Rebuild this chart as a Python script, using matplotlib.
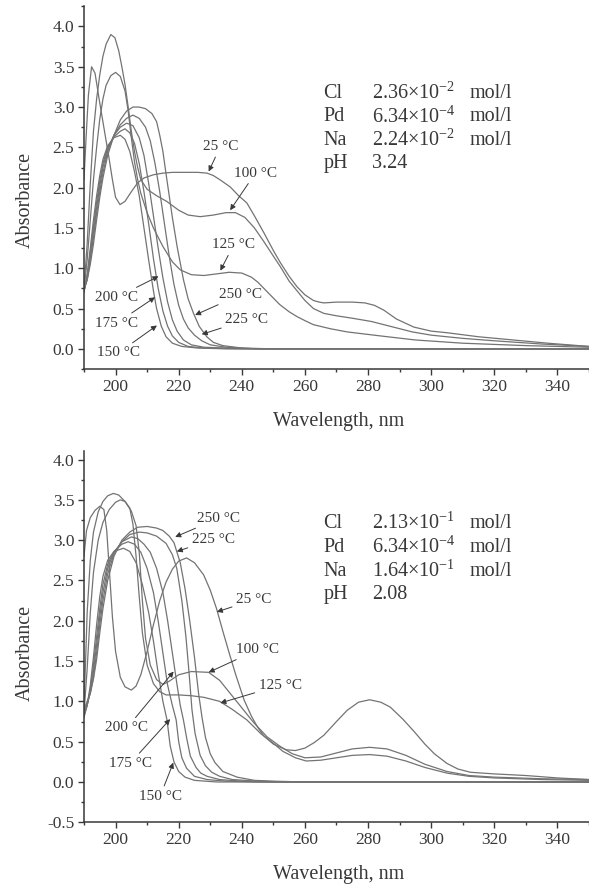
import numpy as np
import matplotlib
matplotlib.use("Agg")
import matplotlib.pyplot as plt
from matplotlib.ticker import FormatStrFormatter

plt.rcParams["font.family"] = ["Liberation Serif", "DejaVu Serif"]
plt.rcParams["mathtext.fontset"] = "custom"
plt.rcParams["mathtext.rm"] = "Liberation Serif"
plt.rcParams["mathtext.it"] = "Liberation Serif:italic"
plt.rcParams["mathtext.bf"] = "Liberation Serif:bold"

INK = "#383838"
LINE = "#737373"

# %% upper panel: Cl 2.36e-2 mol/l, pH 3.24  -- (wavelength nm, absorbance)
TOP_25 = [(190, 2.1), (190.7, 2.65), (191.4, 3.15), (192.4, 3.5), (193.5, 3.42), (195, 3.05),
          (196.5, 2.7), (198, 2.35), (199, 2.1), (200, 1.88), (201.4, 1.79), (203, 1.83),
          (205, 1.95), (207, 2.06), (209, 2.12), (212, 2.16), (215, 2.18), (218, 2.19), (222, 2.19),
          (226, 2.19), (229, 2.18), (231, 2.15), (233, 2.1), (236.3, 2.01), (239, 1.9), (241.6, 1.81),
          (244, 1.65), (247, 1.44), (250, 1.22), (252.2, 1.07), (255, 0.9), (257.5, 0.77),
          (260, 0.67), (262.7, 0.6), (264.5, 0.58), (266, 0.57), (270, 0.58), (275, 0.58), (279, 0.57),
          (282, 0.54), (285, 0.48), (289, 0.37), (294.5, 0.27), (300, 0.22), (305, 0.2),
          (315, 0.15), (326, 0.11), (337, 0.07), (350, 0.03)]
TOP_100 = [(190, 0.75), (191, 1.3), (192, 2.05), (193, 2.7), (194, 3.1), (195, 3.4), (196, 3.63),
           (197, 3.78), (198.5, 3.9), (199.8, 3.86), (201, 3.7), (202, 3.5), (203, 3.28),
           (204, 3.0), (205, 2.7), (206, 2.45), (207, 2.25), (208, 2.1), (210, 1.98), (213, 1.9),
           (216.2, 1.83), (220, 1.72), (223, 1.66), (226.8, 1.64), (231, 1.66), (235, 1.69),
           (238, 1.69), (241, 1.63), (244, 1.5), (247, 1.33), (250, 1.15), (252.2, 1.02),
           (255, 0.84), (257.5, 0.72), (260, 0.6), (262.7, 0.5), (266, 0.44), (270, 0.41),
           (275, 0.38), (281, 0.34), (287, 0.28), (294, 0.21), (300, 0.17), (310, 0.13),
           (320, 0.1), (335, 0.06), (350, 0.03)]
TOP_125 = [(190, 0.74), (191, 1.1), (192, 1.6), (193, 2.1), (194, 2.5), (195, 2.85), (196, 3.1),
           (197, 3.27), (198.5, 3.39), (200, 3.43), (201.5, 3.38), (203, 3.2), (204, 2.95),
           (205, 2.62), (206, 2.32), (207, 2.1), (208, 1.93), (210, 1.69), (212, 1.5), (215, 1.27),
           (218, 1.08), (220.5, 0.98), (224, 0.92), (228, 0.91), (232, 0.93), (236, 0.95),
           (240, 0.94), (243, 0.89), (245, 0.83), (247, 0.75), (249.5, 0.65), (252, 0.55),
           (255, 0.46), (257.5, 0.4), (260, 0.35), (262.7, 0.3), (268, 0.25), (273.4, 0.21),
           (284, 0.16), (295, 0.11), (310, 0.07), (330, 0.04), (350, 0.02)]
TOP_150 = [(190, 0.7), (191, 0.92), (192, 1.25), (193, 1.6), (194, 1.9), (195, 2.15), (196, 2.35),
           (197.5, 2.52), (199.5, 2.62), (201.5, 2.65), (203, 2.6), (204.5, 2.45), (206, 2.2),
           (207.5, 1.9), (209, 1.5), (210.5, 1.1), (212, 0.72), (213, 0.5), (214.5, 0.28),
           (216, 0.15), (218, 0.07), (221, 0.03), (226, 0.01), (235, 0.0), (350, 0.0)]
TOP_175 = [(190, 0.71), (191, 0.9), (192, 1.2), (193, 1.52), (194, 1.82), (195, 2.08), (196, 2.3),
           (197.5, 2.5), (199.5, 2.63), (201.5, 2.7), (203, 2.73), (204.5, 2.68), (206, 2.55),
           (207.5, 2.3), (209, 1.95), (210.5, 1.55), (212, 1.12), (213.5, 0.75), (215, 0.47),
           (216.5, 0.28), (218, 0.16), (220, 0.08), (223, 0.03), (228, 0.01), (240, 0.0), (350, 0.0)]
TOP_200 = [(190, 0.72), (191, 0.88), (192, 1.15), (193, 1.45), (194, 1.75), (195, 2.02), (196, 2.25),
           (197.5, 2.48), (199.5, 2.65), (201.5, 2.75), (203.5, 2.8), (205.5, 2.77), (207.5, 2.62),
           (209, 2.4), (210.5, 2.05), (212, 1.65), (213.5, 1.25), (215, 0.88), (216.5, 0.58),
           (218, 0.36), (219.5, 0.22), (221.5, 0.11), (224, 0.05), (228, 0.02), (235, 0.01),
           (245, 0.0), (350, 0.0)]
TOP_225 = [(190, 0.73), (191, 0.86), (192, 1.1), (193, 1.38), (194, 1.68), (195, 1.95), (196, 2.18),
           (197.5, 2.45), (199.5, 2.65), (201.5, 2.78), (203.5, 2.86), (205.5, 2.9), (207.5, 2.86),
           (209.5, 2.75), (211, 2.58), (212.5, 2.3), (214, 1.95), (215.5, 1.55), (217, 1.15),
           (218.5, 0.8), (220, 0.54), (221.5, 0.37), (223, 0.26), (225, 0.17), (227.3, 0.1),
           (230, 0.05), (235, 0.02), (245, 0.0), (350, 0.0)]
TOP_250 = [(190, 0.74), (191, 0.85), (192, 1.05), (193, 1.3), (194, 1.6), (195, 1.88), (196, 2.12),
           (197.5, 2.4), (199.5, 2.65), (201.5, 2.84), (203.5, 2.95), (205.5, 3.0), (207.5, 3.0),
           (209.5, 2.98), (211.5, 2.92), (213, 2.82), (214, 2.65), (215, 2.45), (216, 2.17),
           (217, 1.9), (218, 1.63), (219.5, 1.27), (221.5, 0.86), (223, 0.62), (224.7, 0.44),
           (226.5, 0.28), (228.9, 0.15), (231, 0.08), (234, 0.04), (240, 0.01), (250, 0.0), (350, 0.0)]

# %% lower panel: Cl 2.13e-1 mol/l, pH 2.08
BOT_25 = [(190, 2.8), (190.8, 3.12), (192, 3.28), (193.5, 3.37), (195, 3.42), (196.3, 3.38),
          (197.2, 3.12), (198, 2.65), (199, 2.05), (200, 1.62), (201.5, 1.3), (203, 1.18),
          (205, 1.14), (206.5, 1.19), (208, 1.33), (210, 1.62), (212, 1.95), (214, 2.25),
          (216, 2.48), (218, 2.64), (220, 2.74), (222.5, 2.78), (225, 2.72), (227.9, 2.57),
          (230, 2.38), (232, 2.15), (234, 1.87), (236, 1.6), (238, 1.34), (240.7, 1.02), (243, 0.82),
          (245, 0.68), (247, 0.57), (250, 0.47), (254, 0.4), (257, 0.39), (260, 0.42), (263, 0.49),
          (266, 0.58), (270, 0.75), (273.4, 0.89), (277, 0.99), (280.5, 1.02), (284, 0.99),
          (287, 0.93), (291, 0.78), (294.5, 0.63), (298, 0.47), (301, 0.35), (305, 0.23),
          (308.5, 0.16), (312.5, 0.12), (320, 0.1), (330, 0.08), (340, 0.05), (350, 0.03)]
BOT_100 = [(190, 0.95), (190.5, 1.5), (191, 2.1), (192, 2.75), (193, 3.1), (194.5, 3.35), (196, 3.48),
           (197.5, 3.55), (199.3, 3.58), (201, 3.56), (203, 3.48), (205, 3.36), (206.5, 3.18),
           (207.5, 2.85), (208.5, 2.25), (209.5, 1.78), (211, 1.45), (213, 1.27), (215, 1.21),
           (217, 1.25), (220, 1.33), (224, 1.37), (229.5, 1.36), (233, 1.26), (236.3, 1.1),
           (240, 0.92), (243.7, 0.74), (248, 0.56), (252.2, 0.44), (256, 0.35), (260, 0.3),
           (265, 0.31), (270, 0.36), (275, 0.41), (280.5, 0.43), (286, 0.41), (292, 0.33),
           (298, 0.22), (305, 0.13), (312, 0.08), (320, 0.06), (335, 0.04), (350, 0.03)]
BOT_125 = [(190, 0.85), (191, 1.4), (192, 2.1), (193, 2.6), (194.5, 3.0), (196, 3.22), (198, 3.38),
           (200, 3.47), (201.5, 3.5), (203, 3.48), (204.5, 3.4), (205.5, 3.2), (206.5, 2.8),
           (207.5, 2.3), (208.5, 1.85), (210, 1.45), (212, 1.22), (214, 1.12), (216, 1.08),
           (220, 1.08), (224, 1.07), (228, 1.05), (233, 1.0), (237, 0.9), (241.6, 0.77), (246, 0.6),
           (250, 0.48), (253, 0.38), (257, 0.3), (260.4, 0.26), (265, 0.27), (270, 0.3), (275, 0.33),
           (280.5, 0.34), (286, 0.32), (292, 0.26), (298, 0.18), (305, 0.11), (312, 0.07),
           (320, 0.05), (335, 0.03), (350, 0.02)]
BOT_150 = [(190, 0.8), (191, 0.95), (192, 1.2), (193, 1.55), (194, 1.95), (195, 2.3), (196, 2.55),
           (197.5, 2.75), (199.5, 2.86), (202.5, 2.9), (204.5, 2.86), (206.5, 2.72), (208.5, 2.45),
           (210.5, 2.1), (212, 1.75), (213.5, 1.35), (215, 1.0), (216.3, 0.77), (217.3, 0.45),
           (218.5, 0.25), (220, 0.13), (222, 0.06), (225, 0.02), (232, 0.0), (350, 0.0)]
BOT_175 = [(190, 0.82), (191, 0.95), (192, 1.15), (193, 1.45), (194, 1.8), (195, 2.15), (196, 2.45),
           (197.5, 2.7), (199.5, 2.86), (202, 2.95), (204, 2.98), (206, 2.95), (208, 2.85),
           (210, 2.65), (212, 2.35), (213.5, 2.0), (215, 1.6), (216.5, 1.2), (218, 0.95),
           (219.2, 0.77), (220, 0.5), (221, 0.3), (222.5, 0.17), (225, 0.07), (229, 0.03),
           (235, 0.01), (245, 0.0), (350, 0.0)]
BOT_200 = [(190, 0.85), (191, 0.95), (192, 1.12), (193, 1.38), (194, 1.7), (195, 2.05), (196, 2.35),
           (197.5, 2.65), (199.5, 2.85), (202, 2.98), (205, 3.04), (207, 3.02), (209, 2.95),
           (211, 2.85), (213, 2.65), (215, 2.35), (216.5, 2.0), (218, 1.6), (219.5, 1.2),
           (220.5, 0.95), (221.5, 0.77), (222.5, 0.55), (223.7, 0.32), (225.5, 0.18), (227, 0.11),
           (229, 0.07), (233, 0.03), (240, 0.01), (250, 0.0), (350, 0.0)]
BOT_225 = [(190, 0.87), (191, 0.97), (192, 1.1), (193, 1.3), (194, 1.6), (195, 1.95), (196, 2.25),
           (197.5, 2.58), (199.5, 2.83), (202, 2.98), (204.5, 3.07), (207.5, 3.1), (210, 3.09),
           (213, 3.05), (216, 2.96), (218, 2.82), (219.4, 2.65), (221, 2.25), (222.3, 1.8),
           (223.3, 1.35), (224.2, 0.9), (225.2, 0.6), (226.8, 0.33), (228.5, 0.2), (230.5, 0.12),
           (233, 0.07), (237, 0.03), (245, 0.01), (255, 0.0), (350, 0.0)]
BOT_250 = [(190, 0.9), (191, 1.0), (192, 1.1), (193, 1.28), (194, 1.52), (195, 1.85), (196, 2.15),
           (197.5, 2.5), (199.5, 2.8), (202, 3.0), (204.5, 3.1), (207, 3.16), (210, 3.17),
           (213, 3.15), (215, 3.12), (217, 3.05), (218.5, 2.97), (220.5, 2.72), (222, 2.4),
           (223.5, 2.0), (225, 1.55), (226.3, 1.1), (227.4, 0.8), (228.5, 0.55), (230, 0.35),
           (231.5, 0.24), (234, 0.13), (238.5, 0.06), (244, 0.02), (250, 0.01), (260, 0.0), (350, 0.0)]

TOP_CURVES = [TOP_25, TOP_100, TOP_125, TOP_150, TOP_175, TOP_200, TOP_225, TOP_250]
BOT_CURVES = [BOT_25, BOT_100, BOT_125, BOT_150, BOT_175, BOT_200, BOT_225, BOT_250]

# temperature labels: (text, label centre, arrow tip) in data units
TOP_LABELS = [("25 °C", (233.2, 2.51), (229.5, 2.2)),
              ("100 °C", (244.3, 2.18), (236.3, 1.72)),
              ("125 °C", (237.4, 1.29), (233.2, 0.97)),
              ("200 °C", (200.4, 0.64), (213.6, 0.9)),
              ("175 °C", (200.4, 0.32), (212.5, 0.64)),
              ("150 °C", (200.9, -0.05), (213.1, 0.29)),
              ("250 °C", (239.5, 0.67), (225.2, 0.42)),
              ("225 °C", (241.6, 0.36), (227.3, 0.18))]
BOT_LABELS = [("250 °C", (232.6, 3.27), (218.9, 3.04)),
              ("225 °C", (231.0, 3.01), (219.4, 2.86)),
              ("25 °C", (243.8, 2.26), (232.1, 2.11)),
              ("100 °C", (245.0, 1.64), (229.5, 1.36)),
              ("125 °C", (252.2, 1.20), (233.2, 0.98)),
              ("200 °C", (203.6, 0.67), (218.4, 1.37)),
              ("175 °C", (204.6, 0.23), (217.3, 0.78)),
              ("150 °C", (214.1, -0.18), (218.3, 0.24))]

TOP_INFO = [("Cl", "2.36×10$^{-2}$", "mol/l"), ("Pd", "6.34×10$^{-4}$", "mol/l"),
            ("Na", "2.24×10$^{-2}$", "mol/l"), ("pH", "3.24", "")]
BOT_INFO = [("Cl", "2.13×10$^{-1}$", "mol/l"), ("Pd", "6.34×10$^{-4}$", "mol/l"),
            ("Na", "1.64×10$^{-1}$", "mol/l"), ("pH", "2.08", "")]


def style_axes(ax, ylim, ymin_tick):
    ax.set_xlim(190, 350)
    ax.set_ylim(*ylim)
    ax.spines[["top", "right"]].set_visible(False)
    for side in ("left", "bottom"):
        ax.spines[side].set_color(INK)
        ax.spines[side].set_linewidth(1.1)
    ax.set_xticks(np.arange(200, 341, 20))
    ax.set_xticks(np.arange(190, 351, 20), minor=True)
    ax.set_yticks(np.arange(ymin_tick, 4.01, 0.5))
    ax.set_yticks(np.arange(ylim[0], ylim[1] + 0.01, 0.25), minor=True)
    ax.yaxis.set_major_formatter(FormatStrFormatter("%.1f"))
    ax.tick_params(which="major", length=4.5, width=1.0, color=INK, labelsize=12.5,
                   labelcolor=INK, pad=2.5)
    ax.tick_params(which="minor", length=2.5, width=1.0, color=INK)
    ax.set_xlabel("Wavelength, nm", fontsize=14.5, color=INK)
    ax.set_ylabel("Absorbance", fontsize=14.5, color=INK)


def draw_panel(ax, curves, labels, info, info_rows):
    for pts in curves:
        wl, ab = np.array(pts).T
        ax.plot(wl, ab, color=LINE, lw=0.9, solid_joinstyle="round")
    for txt, centre, tip in labels:
        ax.annotate(txt, xy=tip, xytext=centre, ha="center", va="center",
                    fontsize=11, color=INK,
                    arrowprops=dict(arrowstyle="-|>", color=INK, lw=0.7,
                                    mutation_scale=8, shrinkA=1, shrinkB=0))
    for (el, val, unit), y in zip(info, info_rows):
        ax.text(265.9, y, el, fontsize=14.5, color=INK, va="center")
        ax.text(281.3, y, val, fontsize=14.5, color=INK, va="center")
        if unit:
            ax.text(312.3, y, unit, fontsize=14.5, color=INK, va="center")


fig = plt.figure(figsize=(5.89, 8.9), dpi=100)
ax_top = fig.add_axes([0.1426, 0.5854, 0.8574, 0.4075])
ax_bot = fig.add_axes([0.1426, 0.0761, 0.8574, 0.4166])

style_axes(ax_top, (-0.25, 4.25), 0.0)
style_axes(ax_bot, (-0.5, 4.1), -0.5)
ax_top.yaxis.set_label_coords(-0.097, 0.466)
ax_bot.yaxis.set_label_coords(-0.097, 0.457)
ax_top.xaxis.set_label_coords(0.504, -0.119)
ax_bot.xaxis.set_label_coords(0.504, -0.115)

draw_panel(ax_top, TOP_CURVES, TOP_LABELS, TOP_INFO, [3.17, 2.88, 2.59, 2.30])
draw_panel(ax_bot, BOT_CURVES, BOT_LABELS, BOT_INFO, [3.21, 2.91, 2.61, 2.32])

fig.savefig("out.png", dpi=100, facecolor="white")
